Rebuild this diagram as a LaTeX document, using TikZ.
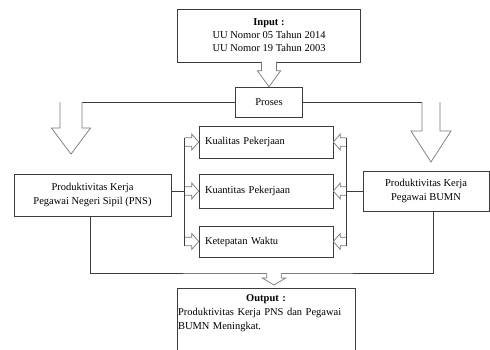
\documentclass[tikz,border=0pt]{standalone}
\usepackage{fontspec}
\setmainfont{Liberation Serif}
\usepackage{tikz}
\usetikzlibrary{calc,positioning}
\definecolor{linegrey}{RGB}{60,60,60}
\definecolor{arrowgrey}{RGB}{120,120,120}

% hollow block arrow: tip, direction towards tail, length, shaft half width, head half width, head length
\newcommand{\hollowarrow}[6]{%
  \draw[hollow, shift={(#1)}, rotate=#2] (#3,-#4) -- (#6,-#4) -- (#6,-#5) -- (0,0) -- (#6,#5) -- (#6,#4) -- (#3,#4);}

\begin{document}
\begin{tikzpicture}[x=1pt, y=-1pt,
    box/.style={rectangle, draw=linegrey, line width=0.6pt, font=\fontsize{10.5}{14}\selectfont,
                align=center, inner sep=2pt},
    item/.style={box, text width=122pt, align=left, inner xsep=6pt, minimum height=32pt},
    hollow/.style={draw=arrowgrey, line width=0.7pt, fill=white, line join=miter},
    line/.style={draw=linegrey, line width=0.6pt}
]
    \useasboundingbox (0,0) rectangle (490,349);

    % Input
    \node[box, minimum width=183pt, minimum height=53pt, font=\fontsize{10.5}{13}\selectfont] (input) at (269,35.5)
        {\textbf{Input :}\\UU Nomor 05 Tahun 2014\\UU Nomor 19 Tahun 2003};
    % Proses
    \node[box, minimum width=67pt, minimum height=30pt] (proses) at (269,102) {Proses};
    \hollowarrow{proses.north}{90}{25}{7.5}{11.7}{16}

    % Produktivitas PNS / BUMN
    \node[box, minimum width=157pt, minimum height=42pt] (pns) at (92.5,195)
        {Produktivitas Kerja\\Pegawai Negeri Sipil (PNS)};
    \node[box, minimum width=126pt, minimum height=40pt] (bumn) at (426,191)
        {Produktivitas Kerja\\Pegawai BUMN};

    \coordinate (splitL) at (60,102);
    \coordinate (splitR) at (440,102);
    \coordinate (tipL) at (71,154);
    \coordinate (tipR) at (431,162);
    \draw[line] (proses.west) -- (splitL);
    \draw[line] (proses.east) -- (splitR);
    \hollowarrow{tipL}{90}{52}{11}{19.5}{26}
    \hollowarrow{tipR}{90}{60}{9}{20}{31}

    % Indikator
    \node[item] (kualitas) at (266,142) {Kualitas Pekerjaan};
    \node[item, minimum height=34pt] (kuantitas) at (266,191) {Kuantitas Pekerjaan};
    \node[item, minimum height=31pt] (ketepatan) at (266,241.5) {Ketepatan Waktu};

    \foreach \n in {kualitas,kuantitas,ketepatan} {
        \hollowarrow{\n.west}{180}{14}{4.3}{8}{7}
        \hollowarrow{\n.east}{0}{13}{4.3}{8}{7}
    }
    \draw[line] ($(kualitas.west)+(-14,-4.3)$) -- ($(ketepatan.west)+(-14,4.3)$);
    \draw[line] ($(kualitas.east)+(13,-4.3)$) -- ($(ketepatan.east)+(13,4.3)$);
    \draw[line] (kuantitas.west -| pns.east) -- ++(14,0);
    \draw[line] (kuantitas.east -| bumn.west) -- ++(-17,0);

    % Output
    \node[box, anchor=north, text width=176pt, align=left, inner xsep=1pt, inner ysep=6pt] (output) at (266,288)
        {\makebox[176pt]{\textbf{Output :}}\\Produktivitas Kerja PNS dan Pegawai\\BUMN Meningkat.\\[8pt]\mbox{}};
    \coordinate (merge) at (274,273);
    \coordinate (tipO) at (274,285);
    \draw[line] ([xshift=-2pt]pns.south) |- (merge) -| ([xshift=7pt]bumn.south);
    \hollowarrow{tipO}{90}{12}{7.3}{11.7}{7}
\end{tikzpicture}
\end{document}
